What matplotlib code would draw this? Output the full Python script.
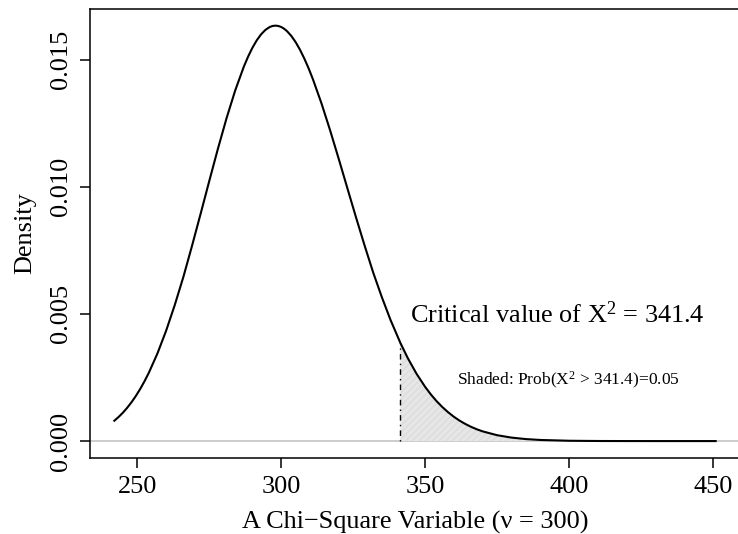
import matplotlib.pyplot as plt

# chi-square (df = 300) density
x_vals = [242, 243.5, 245, 246.5, 248, 249.5, 251, 252.5, 254, 257, 260, 263,
          266, 269, 272, 275, 278, 281, 284, 287, 288.5, 290, 291.5, 293,
          294.5, 296, 297, 298, 299, 300, 301, 302, 303.5, 305, 306.5, 308,
          309.5, 311, 314, 317, 320, 323, 326, 329, 332, 335, 338, 341.4,
          344, 347, 350, 352, 354, 356, 358, 360, 362, 364, 366, 368, 370,
          375, 380, 385, 390, 400, 410, 420, 435, 451]
density = [0.000801, 0.000950, 0.001120, 0.001314, 0.001533, 0.001778,
           0.002052, 0.002355, 0.002689, 0.003451, 0.004340, 0.005350,
           0.006456, 0.007677, 0.008942, 0.010228, 0.011493, 0.012693,
           0.013782, 0.014718, 0.015116, 0.015463, 0.015755, 0.015989,
           0.016164, 0.016277, 0.016318, 0.016332, 0.016318, 0.016278,
           0.016210, 0.016116, 0.015928, 0.015684, 0.015389, 0.015045,
           0.014658, 0.014230, 0.013273, 0.012214, 0.011090, 0.009938,
           0.008793, 0.007681, 0.006614, 0.005650, 0.004759, 0.003863,
           0.003260, 0.002653, 0.002135, 0.001835, 0.001570, 0.001338,
           0.001134, 0.000957, 0.000803, 0.000672, 0.000559, 0.000463,
           0.000382, 0.000232, 0.000137, 0.0000788, 0.0000443, 0.0000130,
           0.0000035, 0.0000009, 0.0000001, 0.0]
crit = 341.4
x_ticks = [250, 300, 350, 400, 450]
y_ticks = [0.000, 0.005, 0.010, 0.015]
y_tick_labels = ["0.000", "0.005", "0.010", "0.015"]

plt.rcParams['font.family'] = 'Liberation Serif'
plt.rcParams['mathtext.fontset'] = 'custom'
plt.rcParams['mathtext.rm'] = 'Liberation Serif'
plt.rcParams['mathtext.default'] = 'regular'
fs = 18.9

fig = plt.figure(figsize=(7.38, 5.34), dpi=100)
ax = fig.add_axes([90.3 / 738, 76.3 / 534, 649.4 / 738, 448.7 / 534])

# R style 4% padding
xr = x_vals[-1] - x_vals[0]
ax.set_xlim(x_vals[0] - 0.04 * xr, x_vals[-1] + 0.04 * xr)
ymax = max(density)
ax.set_ylim(-0.04 * ymax, ymax * 1.04)

ax.axhline(0, color='#BEBEBE', lw=1.1, zorder=1)

# shaded upper tail
tail_x = [x for x in x_vals if x >= crit]
tail_y = [d for x, d in zip(x_vals, density) if x >= crit]
ax.fill_between(tail_x, 0, tail_y, facecolor='#E6E6E6', edgecolor='#DCDCDC',
                hatch='/////', linewidth=0, zorder=2)
ax.plot([crit, crit], [0, tail_y[0]], color='black', lw=1.0,
        linestyle=(0, (1, 3, 4, 3)), zorder=3)
ax.plot(x_vals, density, color='black', lw=1.5, zorder=4,
        solid_joinstyle='round')

ax.text(396, 0.00466, r"Critical value of X$^2$ = 341.4", ha='center',
        va='baseline', fontsize=fs)
ax.text(399.8, 0.00222, r"Shaded: Prob(X$^2$ > 341.4)=0.05", ha='center',
        va='baseline', fontsize=12.5)

ax.set_xticks(x_ticks)
ax.set_yticks(y_ticks, y_tick_labels)
ax.tick_params(direction='out', length=7.2, width=1.1, pad=6, labelsize=fs)
plt.setp(ax.get_yticklabels(), rotation=90, va='center')
for s in ax.spines.values():
    s.set_linewidth(1.1)

ax.set_xlabel("A Chi\u2212Square Variable (\u03bd = 300)", fontsize=fs)
ax.xaxis.label.set_verticalalignment('baseline')
ax.xaxis.set_label_coords(0.5, -(529 - 457.7) / 448.7)
ax.set_ylabel("Density", fontsize=fs)
ax.yaxis.label.set_verticalalignment('baseline')
ax.yaxis.set_label_coords((31 - 90.3) / 649.4, 0.5)

fig.savefig("out.png", dpi=100)
